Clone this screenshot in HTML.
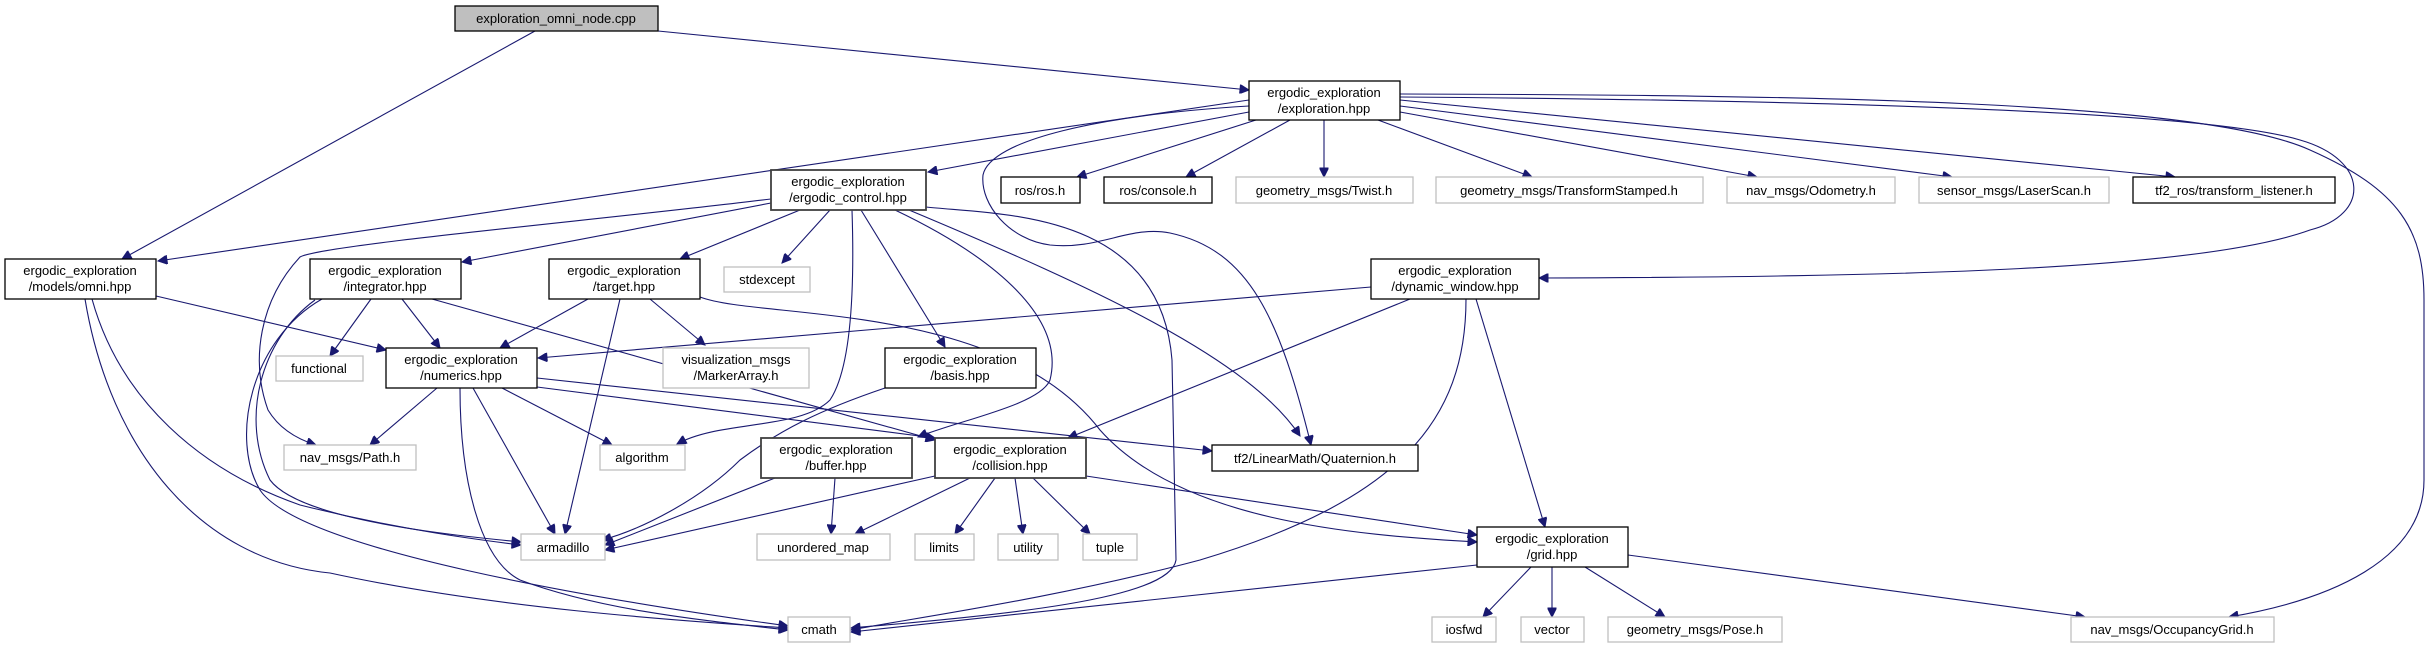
<!DOCTYPE html>
<html><head><meta charset="utf-8"><style>
html,body{margin:0;padding:0;background:#fff;}
svg{display:block;}
text{font-family:"Liberation Sans","DejaVu Sans",sans-serif;font-size:13px;fill:#000;text-anchor:middle;}
.n{fill:#fff;stroke:#000;stroke-width:1.3;}
.d{fill:#fff;stroke:#404040;stroke-width:1.8;}
.g{fill:#fff;stroke:#bfbfbf;stroke-width:1.3;}
path{fill:none;stroke:#191970;stroke-width:1.1;}
</style></head><body>
<svg width="2429" height="648" viewBox="0 0 2429 648" xmlns="http://www.w3.org/2000/svg">
<defs><marker id="a" viewBox="0 0 10 10" refX="10" refY="5" markerWidth="12" markerHeight="9" markerUnits="userSpaceOnUse" orient="auto"><path d="M0,0 L10,5 L0,10 z" style="fill:#191970;stroke:#191970"/></marker></defs>
<g marker-end="url(#a)">
<path d="M535,31 L122,259"/>
<path d="M658,31 L1249,90"/>
<path d="M1249,100 L158,261"/>
<path d="M1249,112 L928,172"/>
<path d="M1256,120 L1077,177"/>
<path d="M1290,120 L1186,177"/>
<path d="M1324,120 L1324,177"/>
<path d="M1378,120 L1532,177"/>
<path d="M1400,112 L1757,177"/>
<path d="M1400,106 L1952,177"/>
<path d="M1400,100 L2175,177"/>
<path d="M1400,94 C1800,95 2200,100 2310,150 C2400,190 2424,230 2424,300 L2424,480 C2424,560 2330,600 2229,617"/>
<path d="M1400,97 C1800,100 2200,110 2300,140 C2370,160 2370,215 2310,230 C2200,270 1900,277 1539,278"/>
<path d="M1249,106 C1100,115 990,140 983,175 C980,205 1010,240 1050,245 C1100,250 1130,225 1170,233 C1250,250 1280,320 1311,445"/>
<path d="M771,203 L462,262"/>
<path d="M771,199 C600,220 320,245 300,257 C260,300 250,360 268,410 C280,430 300,440 316,445"/>
<path d="M800,210 L680,259"/>
<path d="M830,210 L782,263"/>
<path d="M852,210 C855,300 850,370 830,400 C800,430 720,420 677,444"/>
<path d="M861,210 L945,347"/>
<path d="M895,210 C1000,260 1065,320 1050,380 C1040,405 960,420 918,437"/>
<path d="M909,210 C1100,290 1250,360 1300,436"/>
<path d="M926,207 C1000,215 1160,210 1172,360 L1176,560 C1170,600 1000,615 851,628"/>
<path d="M700,297 C760,320 1000,300 1100,430 C1180,520 1350,535 1477,542"/>
<path d="M156,296 L386,350"/>
<path d="M92,299 C120,400 200,470 300,505 C400,530 480,540 521,545"/>
<path d="M85,299 C110,450 200,560 330,573 C500,610 700,622 788,628"/>
<path d="M371,299 L330,356"/>
<path d="M402,299 L440,348"/>
<path d="M432,299 L935,440"/>
<path d="M315,300 C260,340 240,420 270,480 C300,520 450,535 521,542"/>
<path d="M322,299 C250,340 230,440 260,490 C300,550 600,600 788,626"/>
<path d="M588,299 L500,348"/>
<path d="M620,299 L565,534"/>
<path d="M650,299 L705,345"/>
<path d="M437,388 L370,445"/>
<path d="M502,388 L612,445"/>
<path d="M473,388 L555,534"/>
<path d="M460,388 C460,480 480,560 520,580 C600,610 700,620 788,630"/>
<path d="M537,378 L1212,451"/>
<path d="M537,387 L935,438"/>
<path d="M1371,287 L538,358"/>
<path d="M1410,299 L1068,438"/>
<path d="M1466,299 C1466,420 1400,500 1200,560 C1050,600 900,620 851,630"/>
<path d="M1476,299 L1545,527"/>
<path d="M885,388 C820,410 780,430 740,460 C700,500 640,530 602,540"/>
<path d="M775,478 L605,545"/>
<path d="M935,476 L605,550"/>
<path d="M835,478 L831,534"/>
<path d="M970,478 L855,534"/>
<path d="M995,478 L955,534"/>
<path d="M1015,478 L1023,534"/>
<path d="M1033,478 L1090,534"/>
<path d="M1086,476 L1477,535"/>
<path d="M1477,565 L851,632"/>
<path d="M1531,567 L1483,617"/>
<path d="M1552,567 L1552,617"/>
<path d="M1585,567 L1665,617"/>
<path d="M1628,555 L2085,617"/>
</g>
<rect x="455" y="6" width="203" height="25" style="fill:#bfbfbf;stroke:#000;stroke-width:1.3"/><text x="556" y="23">exploration_omni_node.cpp</text>
<rect class="n" x="1249" y="81" width="151" height="39"/><text x="1324" y="97">ergodic_exploration</text><text x="1324" y="113">/exploration.hpp</text>
<rect class="d" x="771" y="170" width="155" height="40"/><text x="848" y="186">ergodic_exploration</text><text x="848" y="202">/ergodic_control.hpp</text>
<rect class="n" x="1001" y="177" width="79" height="26"/><text x="1040" y="195">ros/ros.h</text>
<rect class="n" x="1104" y="177" width="108" height="26"/><text x="1158" y="195">ros/console.h</text>
<rect class="g" x="1236" y="177" width="177" height="26"/><text x="1324" y="195">geometry_msgs/Twist.h</text>
<rect class="g" x="1436" y="177" width="267" height="26"/><text x="1569" y="195">geometry_msgs/TransformStamped.h</text>
<rect class="g" x="1727" y="177" width="168" height="26"/><text x="1811" y="195">nav_msgs/Odometry.h</text>
<rect class="g" x="1919" y="177" width="190" height="26"/><text x="2014" y="195">sensor_msgs/LaserScan.h</text>
<rect class="n" x="2133" y="177" width="202" height="26"/><text x="2234" y="195">tf2_ros/transform_listener.h</text>
<rect class="n" x="5" y="259" width="151" height="40"/><text x="80" y="275">ergodic_exploration</text><text x="80" y="291">/models/omni.hpp</text>
<rect class="n" x="310" y="259" width="151" height="40"/><text x="385" y="275">ergodic_exploration</text><text x="385" y="291">/integrator.hpp</text>
<rect class="n" x="549" y="259" width="151" height="40"/><text x="624" y="275">ergodic_exploration</text><text x="624" y="291">/target.hpp</text>
<rect class="g" x="724" y="267" width="86" height="25"/><text x="767" y="284">stdexcept</text>
<rect class="n" x="1371" y="259" width="168" height="40"/><text x="1455" y="275">ergodic_exploration</text><text x="1455" y="291">/dynamic_window.hpp</text>
<rect class="g" x="276" y="356" width="87" height="25"/><text x="319" y="373">functional</text>
<rect class="n" x="386" y="348" width="151" height="40"/><text x="461" y="364">ergodic_exploration</text><text x="461" y="380">/numerics.hpp</text>
<rect class="g" x="663" y="348" width="146" height="40"/><text x="736" y="364">visualization_msgs</text><text x="736" y="380">/MarkerArray.h</text>
<rect class="n" x="885" y="348" width="151" height="40"/><text x="960" y="364">ergodic_exploration</text><text x="960" y="380">/basis.hpp</text>
<rect class="g" x="284" y="445" width="132" height="25"/><text x="350" y="462">nav_msgs/Path.h</text>
<rect class="g" x="600" y="445" width="85" height="25"/><text x="642" y="462">algorithm</text>
<rect class="d" x="761" y="438" width="151" height="40"/><text x="836" y="454">ergodic_exploration</text><text x="836" y="470">/buffer.hpp</text>
<rect class="d" x="935" y="438" width="151" height="40"/><text x="1010" y="454">ergodic_exploration</text><text x="1010" y="470">/collision.hpp</text>
<rect class="n" x="1212" y="445" width="206" height="26"/><text x="1315" y="463">tf2/LinearMath/Quaternion.h</text>
<rect class="g" x="521" y="534" width="84" height="26"/><text x="563" y="552">armadillo</text>
<rect class="g" x="757" y="534" width="133" height="26"/><text x="823" y="552">unordered_map</text>
<rect class="g" x="915" y="534" width="59" height="26"/><text x="944" y="552">limits</text>
<rect class="g" x="998" y="534" width="60" height="26"/><text x="1028" y="552">utility</text>
<rect class="g" x="1083" y="534" width="54" height="26"/><text x="1110" y="552">tuple</text>
<rect class="n" x="1477" y="527" width="151" height="40"/><text x="1552" y="543">ergodic_exploration</text><text x="1552" y="559">/grid.hpp</text>
<rect class="g" x="788" y="617" width="62" height="25"/><text x="819" y="634">cmath</text>
<rect class="g" x="1432" y="617" width="64" height="25"/><text x="1464" y="634">iosfwd</text>
<rect class="g" x="1521" y="617" width="63" height="25"/><text x="1552" y="634">vector</text>
<rect class="g" x="1608" y="617" width="174" height="25"/><text x="1695" y="634">geometry_msgs/Pose.h</text>
<rect class="g" x="2071" y="617" width="203" height="25"/><text x="2172" y="634">nav_msgs/OccupancyGrid.h</text>
</svg>
</body></html>
